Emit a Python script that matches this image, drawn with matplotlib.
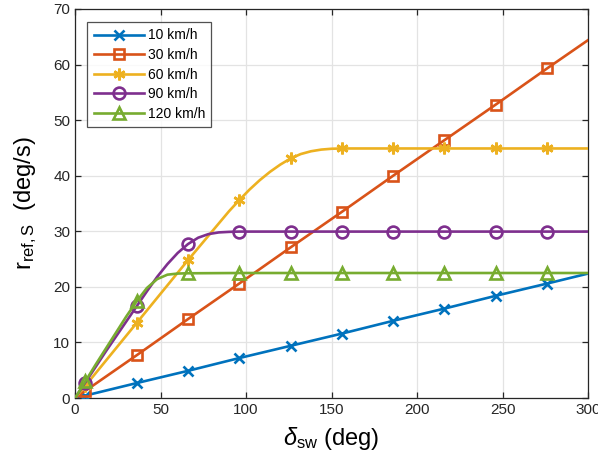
import matplotlib
matplotlib.use("Agg")
import matplotlib.pyplot as plt
from matplotlib.lines import Line2D

plt.rcParams['font.family'] = ['Liberation Sans', 'DejaVu Sans']
plt.rcParams['mathtext.fontset'] = 'custom'
plt.rcParams['mathtext.rm'] = 'Liberation Sans'
plt.rcParams['mathtext.it'] = 'Liberation Sans:italic'
plt.rcParams['mathtext.fallback'] = 'stixsans'

# ---- data ----
labels = ['10 km/h', '30 km/h', '60 km/h', '90 km/h', '120 km/h']
marker_x = [6, 36, 66, 96, 126, 156, 186, 216, 246, 276]

x_10 = [0, 6, 36, 66, 96, 126, 156, 186, 216, 246, 276, 300]
r_10 = [0, 0.45, 2.7, 4.9, 7.2, 9.4, 11.6, 13.9, 16.1, 18.4, 20.6, 22.4]

x_30 = [0, 6, 36, 66, 96, 126, 156, 186, 216, 246, 276, 300]
r_30 = [0, 1.3, 7.7, 14.2, 20.6, 27.1, 33.5, 40.0, 46.4, 52.8, 59.3, 64.4]

x_60 = [0, 6, 36, 66, 84, 90, 96, 102, 108, 114, 120, 126, 132, 138, 144, 150,
        156, 186, 216, 246, 276, 300]
r_60 = [0, 2.2, 13.5, 24.8, 31.4, 33.6, 35.6, 37.5, 39.2, 40.7, 42.0, 43.1,
        43.9, 44.4, 44.7, 44.85, 44.9, 44.9, 44.9, 44.9, 44.9, 44.9]

x_90 = [0, 6, 12, 18, 24, 30, 36, 42, 48, 54, 60, 66, 72, 78, 84, 90, 96,
        126, 156, 186, 216, 246, 276, 300]
r_90 = [0, 2.8, 5.6, 8.4, 11.1, 13.8, 16.5, 19.2, 21.8, 24.1, 26.1, 27.7,
        28.85, 29.5, 29.8, 29.9, 29.95, 29.95, 29.95, 29.95, 29.95, 29.95,
        29.95, 29.95]

x_120 = [0, 6, 12, 18, 24, 30, 36, 42, 48, 54, 60, 66, 96, 126, 156, 186,
         216, 246, 276, 300]
r_120 = [0, 3.0, 6.0, 8.9, 11.8, 14.7, 17.4, 19.8, 21.4, 22.2, 22.4, 22.45,
         22.5, 22.5, 22.5, 22.5, 22.5, 22.5, 22.5, 22.5]

x_ticks = [0, 50, 100, 150, 200, 250, 300]
y_ticks = [0, 10, 20, 30, 40, 50, 60, 70]

# ---- styles ----
colors = ['#0072BD', '#D95319', '#EDB120', '#7E2F8E', '#77AC30']
markers = ['x', 's', (6, 2, 0), 'o', '^']
msizes = [6.5, 7.5, 8.5, 8.5, 9]

fig = plt.figure(figsize=(5.98, 4.70), dpi=100)
ax = fig.add_axes([0.1255, 0.153, 0.858, 0.828])

series = [(x_10, r_10), (x_30, r_30), (x_60, r_60), (x_90, r_90), (x_120, r_120)]
handles = []
for (xs, ys), c, m, ms, lab in zip(series, colors, markers, msizes, labels):
    idx = [i for i, v in enumerate(xs) if v in marker_x]
    ax.plot(xs, ys, color=c, lw=1.9, marker=m, ms=ms, mew=1.9,
            mfc='none', mec=c, markevery=idx, zorder=3)
    handles.append(Line2D([], [], color=c, lw=1.9, marker=m, ms=ms, mew=1.9,
                          mfc='none', mec=c, label=lab))

ax.set_xlim(0, 300)
ax.set_ylim(0, 70)
ax.set_xticks(x_ticks)
ax.set_yticks(y_ticks)
ax.grid(True, color='#e3e3e3', lw=0.9)
ax.set_axisbelow(True)
ax.tick_params(direction='in', top=True, right=True, labelsize=11,
               colors='#262626', length=4, width=0.9)
for s in ax.spines.values():
    s.set_color('#262626')
    s.set_linewidth(0.9)

ax.set_xlabel(r'$\delta_{\mathrm{sw}}$ (deg)', fontsize=17, labelpad=6)
ax.set_ylabel(r'r$_{\mathrm{ref,S}}$  (deg/s)', fontsize=17, labelpad=10)

leg = ax.legend(handles=handles, loc='upper left', bbox_to_anchor=(0.024, 0.966),
                fontsize=10, frameon=True, fancybox=False, edgecolor='#262626',
                handlelength=3.6, handletextpad=0.3, borderpad=0.45,
                labelspacing=0.4, borderaxespad=0)
leg.get_frame().set_linewidth(0.9)

fig.savefig('out.png', dpi=100)
